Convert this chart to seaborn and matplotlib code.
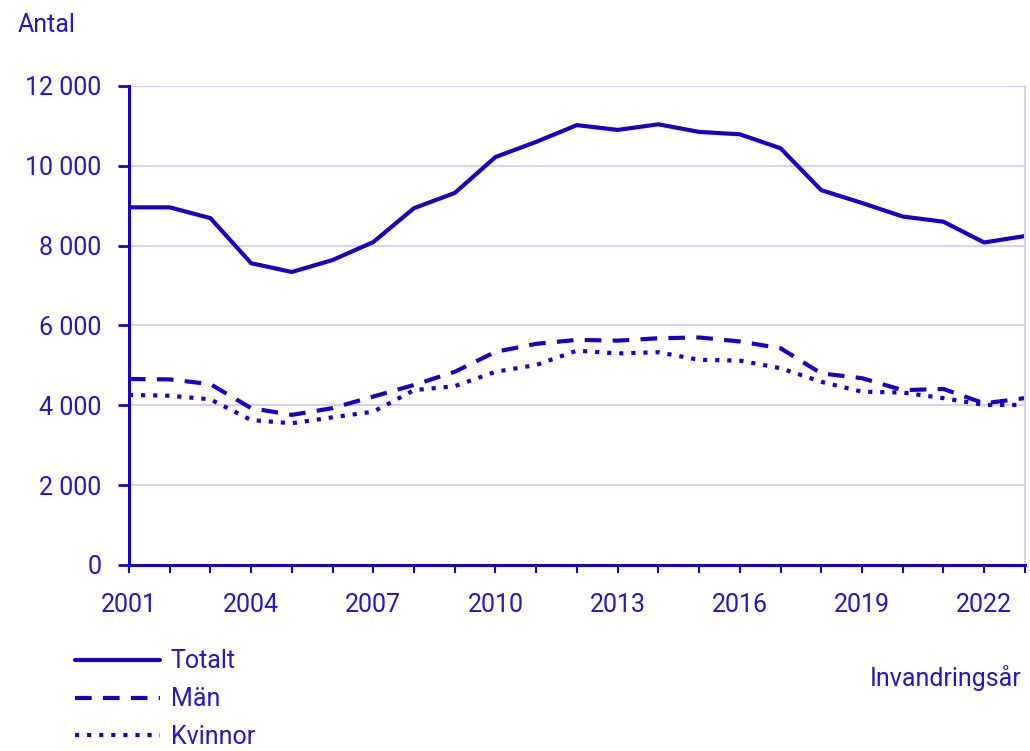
import matplotlib
matplotlib.use("Agg")
import matplotlib.pyplot as plt
from matplotlib.lines import Line2D
import seaborn as sns
import pandas as pd

years = list(range(2001, 2024))
totalt = [8960, 8960, 8690, 7560, 7340, 7640, 8090, 8940, 9320, 10220, 10600, 11020,
          10900, 11040, 10850, 10790, 10440, 9390, 9070, 8730, 8600, 8080, 8240]
man = [4660, 4650, 4530, 3930, 3760, 3930, 4220, 4510, 4840, 5340, 5540, 5640,
       5620, 5680, 5700, 5600, 5430, 4800, 4680, 4380, 4410, 4050, 4180]
kvinnor = [4260, 4240, 4150, 3630, 3550, 3700, 3840, 4380, 4480, 4840, 5010, 5370,
           5300, 5330, 5140, 5120, 4930, 4590, 4340, 4320, 4180, 4010, 4010]
series_names = ["Totalt", "Män", "Kvinnor"]
xtick_years = [2001, 2004, 2007, 2010, 2013, 2016, 2019, 2022]
yticks = [0, 2000, 4000, 6000, 8000, 10000, 12000]

blue = "#1c00c0"
txt = "#2a14c4"
grid = "#d4d2f2"
fs = 18

sns.set_style("white")
plt.rcParams["font.family"] = ["Roboto", "DejaVu Sans"]

df = pd.DataFrame({"year": years, "Totalt": totalt, "Män": man, "Kvinnor": kvinnor})

fig = plt.figure(figsize=(10.3, 7.51), dpi=100)
ax = fig.add_axes([0.1252, 0.2477, 0.8698, 0.6378])

styles = {"Totalt": "-", "Män": (0, (4, 2.7)), "Kvinnor": (0, (1, 1.9))}
for name in series_names:
    sns.lineplot(data=df, x="year", y=name, ax=ax, color=blue, lw=3.0,
                 linestyle=styles[name])

ax.set_xlim(2001, 2023)
ax.set_ylim(0, 12000)
ax.set_yticks(yticks)
ax.set_yticklabels([f"{v:,}".replace(",", " ") for v in yticks])
ax.set_xticks(years)
ax.set_xticklabels([str(y) if y in xtick_years else "" for y in years])
ax.grid(axis="y", color=grid, lw=1.5)
ax.set_axisbelow(True)
ax.set_xlabel("")
ax.set_ylabel("")

ax.spines["top"].set_visible(False)
ax.spines["right"].set_color(grid)
ax.spines["right"].set_linewidth(1.5)
for s in ["left", "bottom"]:
    ax.spines[s].set_color(blue)
    ax.spines[s].set_linewidth(2.2)

ax.tick_params(axis="y", length=8, width=2, color=blue, labelcolor=txt,
               labelsize=fs, pad=12, left=True)
ax.tick_params(axis="x", length=6, width=1.5, color=blue, labelcolor=txt,
               labelsize=fs, pad=14, bottom=True)

fig.text(18 / 1030, 1 - 25 / 751, "Antal", color=txt, fontsize=fs, va="center", ha="left")
fig.text(1022 / 1030, 1 - 678 / 751, "Invandringsår", color=txt, fontsize=fs,
         va="center", ha="right")

# legend under the plot, left side
handles = [Line2D([], [], color=blue, lw=3.0, linestyle=styles[n]) for n in series_names]
fig.legend(handles, series_names, loc="upper left",
           bbox_to_anchor=(67 / 1030, 1 - 642 / 751), frameon=False,
           fontsize=fs, handlelength=3.4, handletextpad=0.45,
           labelspacing=0.55, labelcolor=txt, borderaxespad=0, borderpad=0.3)

fig.savefig("out.png", dpi=100)
